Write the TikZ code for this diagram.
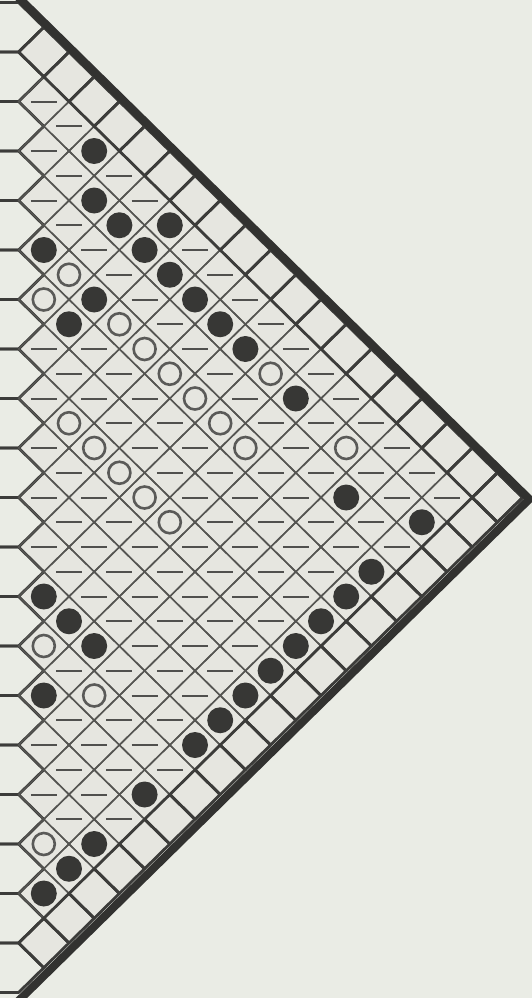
\documentclass[tikz,border=0pt]{standalone}
\begin{document}
\definecolor{bgc}{RGB}{234,236,229}
\definecolor{cellc}{RGB}{230,230,224}
\definecolor{linec}{RGB}{85,85,82}
\definecolor{darkc}{RGB}{60,60,58}
\definecolor{edgec}{RGB}{50,50,48}
\definecolor{dashc}{RGB}{80,80,78}
\definecolor{dotc}{RGB}{55,55,53}
\definecolor{ringc}{RGB}{90,90,88}
\newcommand\setmk[2]{\foreach \p in {#2}{\expandafter\gdef\csname mk\p\endcsname{#1}}}
\setmk{F}{3/4,3/6,4/7,5/8,6/7,6/9,1/8,3/10,2/11,7/10,8/11,9/12,11/14,13/18,16/19,14/21,13/22,12/23,11/24,10/25,9/26,8/27,7/28,5/30,1/22,2/23,3/24,1/26,3/32,2/33,1/34}
\setmk{O}{2/9,1/10,4/11,5/12,6/13,7/14,10/13,8/15,9/16,13/16,5/18,6/19,4/17,3/16,2/15,1/24,3/26,1/32}
\newcommand\cellloop[1]{\foreach \i in {0,...,19}{\foreach \j in {-1,...,37}{%
  \ifodd\numexpr\i+\j\relax \ifnum\numexpr\i-\j\relax<2 \ifnum\numexpr\i+\j\relax<38
  \pgfmathsetmacro\cx{18.6+25.2*\i}\pgfmathsetmacro\cy{52+24.75*\j}#1\fi\fi\fi}}}
\begin{tikzpicture}[x=1pt,y=-1pt,
  inline/.style={draw=linec,line width=1.5pt},
  bline/.style={draw=darkc,line width=2.8pt,line join=round},
  edge/.style={draw=edgec,line width=8pt,line join=miter},
  dashmk/.style={draw=dashc,line width=2pt},
  fullmk/.style={fill=dotc},
  ringmk/.style={draw=ringc,line width=2.6pt}]
\useasboundingbox (0,0) rectangle (532,998);
\fill[bgc] (0,0) rectangle (532,998);
% fills
\cellloop{\ifnum\i>0 \fill[cellc] ({\cx-25.2},\cy) -- (\cx,{\cy-24.75}) -- ({\cx+25.2},\cy) -- (\cx,{\cy+24.75}) -- cycle;\fi}
% lattice lines
\cellloop{\ifnum\i=0 \draw[bline] (0,{\cy-24.75}) -- (\cx,{\cy-24.75}) -- ({\cx+25.2},\cy) -- (\cx,{\cy+24.75}) -- (0,{\cy+24.75});
  \else \draw[inline] ({\cx-25.2},\cy) -- (\cx,{\cy-24.75}) -- ({\cx+25.2},\cy) -- (\cx,{\cy+24.75}) -- cycle;\fi}
% border cells darker
\cellloop{\ifnum\i>0 \ifnum\numexpr\i-\j\relax=1 \draw[bline] ({\cx-25.2},\cy) -- (\cx,{\cy-24.75}) -- ({\cx+25.2},\cy) -- (\cx,{\cy+24.75}) -- cycle;\fi
  \ifnum\numexpr\i+\j\relax=37 \draw[bline] ({\cx-25.2},\cy) -- (\cx,{\cy-24.75}) -- ({\cx+25.2},\cy) -- (\cx,{\cy+24.75}) -- cycle;\fi\fi}
% outer thick border
\coordinate (tl) at (0,-20.8);
\coordinate (apex) at (529.35,499.1);
\coordinate (bl) at (0,1019);
\draw[edge] (tl) -- (apex) -- (bl);
% marks
\cellloop{\ifnum\i>0 \ifnum\numexpr\j-\i\relax>0 \ifnum\numexpr\i+\j\relax<36
  \ifcsname mk\i/\j\endcsname
    \if F\csname mk\i/\j\endcsname \fill[fullmk] (\cx,\cy) circle[radius=13pt];
    \else\if O\csname mk\i/\j\endcsname \draw[ringmk] (\cx,\cy) circle[radius=11pt];\fi\fi
  \else \draw[dashmk] ({\cx-13},\cy) -- ({\cx+13},\cy);
  \fi\fi\fi\fi}
\end{tikzpicture}
\end{document}
